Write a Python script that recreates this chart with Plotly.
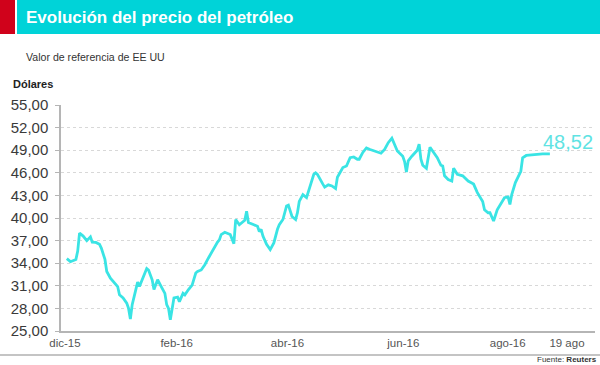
import pandas as pd
import plotly.graph_objects as go

# ---------------- data ----------------
start_date = "2015-12-01"
day_offset = [
    1, 3, 6, 7, 8, 10, 12, 14, 15, 17,
    19, 20, 22, 23, 25, 28, 29, 30, 32, 34,
    35, 36, 37, 39, 40, 41, 43, 45, 46, 48,
    49, 51, 53, 55, 56, 57, 58, 60, 62, 63,
    65, 66, 68, 70, 72, 73, 75, 77, 79, 81,
    83, 84, 85, 86, 88, 91, 93, 94, 96, 99,
    100, 101, 104, 106, 107, 108, 109, 111, 113, 115,
    117, 118, 120, 122, 123, 125, 127, 128, 129, 131,
    133, 135, 137, 138, 139, 142, 143, 145, 147, 149,
    150, 153, 155, 157, 159, 161, 162, 164, 166, 168,
    170, 172, 174, 176, 178, 180, 182, 183, 186, 187,
    188, 189, 191, 194, 195, 196, 197, 199, 201, 203,
    205, 207, 208, 209, 211, 213, 214, 216, 219, 222,
    225, 227, 230, 231, 233, 234, 236, 238, 240, 242,
    244, 245, 246, 248, 251, 252, 254, 258, 263, 267,
]
price = [
    34.6, 34.2, 34.5, 35.6, 38.0, 37.6, 37.0, 37.5, 36.8, 36.75,
    36.5, 36.0, 34.5, 32.9, 32.0, 31.1, 30.9, 29.8, 29.4, 28.7,
    28.0, 26.6, 28.5, 30.5, 31.5, 30.9, 32.2, 33.3, 33.1, 31.8,
    30.5, 31.8, 30.9, 30.0, 28.5, 28.0, 26.5, 29.4, 29.5, 28.9,
    30.0, 29.8, 30.5, 31.1, 32.7, 32.9, 33.1, 33.8, 34.7, 35.6,
    36.5, 36.8, 37.1, 37.8, 38.1, 37.8, 36.6, 39.8, 39.1, 39.7,
    40.9, 39.4, 39.1, 38.9, 38.2, 38.5, 37.6, 36.5, 35.8, 36.7,
    38.5, 39.1, 39.8, 41.6, 41.7, 40.2, 39.8, 40.7, 42.2, 43.1,
    42.7, 44.2, 45.8, 46.0, 45.8, 44.5, 44.1, 44.4, 44.25, 43.9,
    45.4, 46.7, 46.9, 48.0, 48.1, 47.8, 47.8, 48.7, 49.3, 49.1,
    48.9, 48.7, 48.6, 49.1, 50.0, 50.6, 49.4, 48.9, 48.2, 47.5,
    46.1, 47.6, 48.2, 49.0, 49.8, 47.8, 47.0, 46.6, 49.4, 48.7,
    48.0, 47.0, 46.9, 45.6, 45.1, 44.9, 46.6, 45.8, 45.6, 44.9,
    44.5, 43.4, 42.2, 41.1, 40.7, 40.7, 39.6, 41.1, 42.0, 42.7,
    42.8, 41.8, 43.1, 44.7, 46.2, 48.0, 48.3, 48.4, 48.5, 48.52,
]
tick_dates = ["2015-12-01", "2016-01-31 12:00", "2016-04-01 12:00",
              "2016-06-04 07:00", "2016-07-31 19:00", "2016-09-02 10:00"]
tick_labels = ["dic-15", "feb-16", "abr-16", "jun-16", "ago-16", "19 ago"]
y_ticks = [25, 28, 31, 34, 37, 40, 43, 46, 49, 52, 55]

title = "Evolución del precio del petróleo"
subtitle = "Valor de referencia de EE UU"
y_title = "Dólares"
source = "Fuente: <b>Reuters</b>"

# ---------------- layout geometry ----------------
FW, FH = 600, 365
L, R, T, B = 61, 5, 105, 34
PW, PH = FW - L - R, FH - T - B


def px_x(x):
    return (x - L) / PW


def px_y(y):
    return (FH - B - y) / PH


dates = pd.Timestamp(start_date) + pd.to_timedelta(day_offset, unit="D")

CYAN_LINE = "#3ae4e4"
CYAN_BAR = "#00d3d8"
RED = "#d0021b"
SANS = "Liberation Sans, Arial, sans-serif"

fig = go.Figure()
fig.add_trace(go.Scatter(
    x=dates, y=price, mode="lines",
    line=dict(color=CYAN_LINE, width=2.8),
    hoverinfo="skip", showlegend=False,
))

fig.update_layout(
    width=FW, height=FH,
    margin=dict(l=L, r=R, t=T, b=B, pad=0),
    paper_bgcolor="white", plot_bgcolor="white",
    separators=",.",
    showlegend=False,
    xaxis=dict(
        type="date",
        range=["2015-11-28 19:12", "2016-09-17 20:24"],
        tickmode="array", tickvals=tick_dates, ticktext=tick_labels,
        showgrid=False, zeroline=False,
        showline=True, linecolor="#b5b5b5", linewidth=1.5,
        ticks="", tickfont=dict(family=SANS, size=11.5, color="#555555"),
        fixedrange=True,
    ),
    yaxis=dict(
        range=[25, 55],
        tickmode="array", tickvals=y_ticks, tickformat=".2f",
        showgrid=True, gridcolor="#d8d8d8", gridwidth=1, griddash="dot",
        zeroline=False,
        showline=True, linecolor="#b5b5b5", linewidth=1.5,
        ticks="outside", ticklen=4, tickcolor="#b5b5b5", tickwidth=1,
        ticklabelstandoff=4,
        tickfont=dict(family=SANS, size=15, color="#3a3a3a"),
        fixedrange=True,
    ),
)

shapes = [
    # red block and cyan title bar
    dict(type="rect", xref="paper", yref="paper",
         x0=px_x(0), x1=px_x(15), y0=px_y(34), y1=px_y(0),
         fillcolor=RED, line=dict(width=0), layer="above"),
    dict(type="rect", xref="paper", yref="paper",
         x0=px_x(17), x1=px_x(600), y0=px_y(34), y1=px_y(0),
         fillcolor=CYAN_BAR, line=dict(width=0), layer="above"),
    # bottom separator
    dict(type="line", xref="paper", yref="paper",
         x0=px_x(0), x1=px_x(600), y0=px_y(355), y1=px_y(355),
         line=dict(color="#b0b0b0", width=1.5)),
]
fig.update_layout(shapes=shapes)

last_val = price[-1]
annotations = [
    dict(text=f"<b>{title}</b>", xref="paper", yref="paper",
         x=px_x(24), y=px_y(17), xanchor="left", yanchor="middle",
         showarrow=False, font=dict(family=SANS, size=17, color="white")),
    dict(text=subtitle, xref="paper", yref="paper",
         x=px_x(24), y=px_y(57), xanchor="left", yanchor="middle",
         showarrow=False, font=dict(family=SANS, size=10.6, color="#333333")),
    dict(text=f"<b>{y_title}</b>", xref="paper", yref="paper",
         x=px_x(11), y=px_y(84), xanchor="left", yanchor="middle",
         showarrow=False, font=dict(family=SANS, size=11, color="#222222")),
    dict(text=f"{last_val:.2f}".replace(".", ","), x=dates[-1], y=last_val,
         xref="x", yref="y", xanchor="left", yanchor="middle",
         xshift=-9, yshift=12, showarrow=False,
         font=dict(family=SANS, size=20, color="#5fe3e3")),
    dict(text=source, xref="paper", yref="paper",
         x=px_x(598), y=px_y(365), xanchor="right", yanchor="bottom",
         showarrow=False, borderpad=0,
         font=dict(family=SANS, size=8, color="#333333")),
]
fig.update_layout(annotations=annotations)

fig.write_html("out.html", config={"displayModeBar": False},
               post_script="document.body.style.margin='0';")
